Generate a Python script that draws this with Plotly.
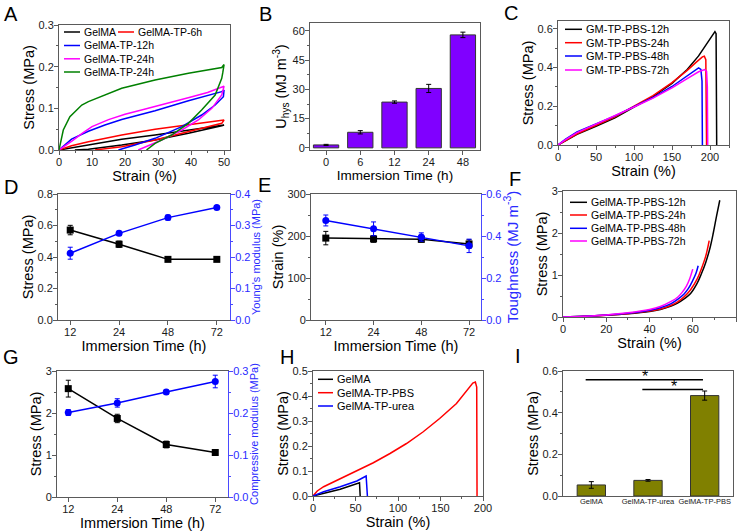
import plotly.graph_objects as go

W, H = 740, 532
FONT = "Liberation Sans, Arial, Helvetica, sans-serif"
FRAME = "#5a5a5a"
TICK_TXT = "#1a1a1a"
BLUE = "#0000FF"
BLUE_AX = "#4a4aff"
BLUE_TXT = "#2a2aff"

# ---------------- A: cyclic loading-unloading ----------------
A_names = ["GelMA", "GelMA-TP-6h", "GelMA-TP-12h", "GelMA-TP-24h", "GelMA-TP-24h"]
A_colors = ["#000000", "#FF0000", "#0000FF", "#FF00FF", "#008000"]
A_gelma_x = [0, 8.9, 19, 29.1, 39.2, 50, 49.3, 39.2, 29.1, 19, 8.9, 4.8]
A_gelma_y = [0, 0.012, 0.026, 0.036, 0.048, 0.060, 0.058, 0.040, 0.024, 0.012, 0.002, 0]
A_6h_x = [0, 3.8, 8.9, 19, 29.1, 39.2, 50, 49.3, 39.2, 29.1, 19, 10.9]
A_6h_y = [0, 0.010, 0.020, 0.036, 0.050, 0.060, 0.072, 0.064, 0.044, 0.024, 0.008, 0]
A_12h_x = [0, 3.8, 8.9, 13.9, 19, 29.1, 39.2, 49.3, 50, 49.8, 47.3, 43.2, 37.2, 29.1, 23, 18]
A_12h_y = [0, 0.026, 0.045, 0.060, 0.073, 0.094, 0.118, 0.140, 0.144, 0.128, 0.108, 0.084, 0.056, 0.028, 0.012, 0]
A_24h_x = [0, 2, 4, 7, 10, 15, 20, 25, 30, 35, 40, 45, 50, 49.3, 46.3, 42.2, 37.2, 31.1, 26.1, 24]
A_24h_y = [0, 0.010, 0.022, 0.040, 0.056, 0.073, 0.086, 0.096, 0.106, 0.116, 0.127, 0.138, 0.153,
           0.132, 0.100, 0.072, 0.048, 0.024, 0.008, 0]
A_24hb_x = [0, 1.3, 3.3, 6.9, 8.9, 13.9, 19, 29.1, 39.2, 49.3, 50, 49.6, 49.3, 47.3, 43.2, 39.2, 34.1, 29.1, 26.5]
A_24hb_y = [0, 0.048, 0.080, 0.108, 0.116, 0.132, 0.148, 0.168, 0.184, 0.198, 0.205, 0.185, 0.172,
            0.132, 0.096, 0.064, 0.036, 0.016, 0]

# ---------------- B: hysteresis energy ----------------
B_time = ["0", "6", "12", "24", "48"]
B_uhys = [1.5, 8.0, 23.5, 30.5, 58.0]
B_err = [0.3, 0.85, 0.6, 2.1, 1.4]

# ---------------- C: tensile curves ----------------
C_names = ["GM-TP-PBS-12h", "GM-TP-PBS-24h", "GM-TP-PBS-48h", "GM-TP-PBS-72h"]
C_colors = ["#000000", "#FF0000", "#0000FF", "#FF00FF"]
C_12_x = [0, 10, 25, 50, 75, 100, 125, 150, 170, 185, 200, 206.5, 208, 208.8]
C_12_y = [0, 0.022, 0.055, 0.097, 0.14, 0.195, 0.25, 0.318, 0.39, 0.46, 0.545, 0.585, 0.575, 0]
C_24_x = [0, 10, 25, 50, 75, 100, 125, 150, 170, 182, 190, 192.5, 194.5, 195.5]
C_24_y = [0, 0.025, 0.058, 0.102, 0.145, 0.2, 0.255, 0.322, 0.385, 0.428, 0.455, 0.458, 0.44, 0]
C_48_x = [0, 10, 25, 50, 75, 100, 125, 150, 170, 180, 185, 188, 189.5, 190]
C_48_y = [0, 0.03, 0.068, 0.11, 0.15, 0.198, 0.245, 0.302, 0.355, 0.383, 0.398, 0.39, 0.33, 0]
C_72_x = [0, 10, 25, 50, 75, 100, 125, 150, 170, 185, 193, 195.5, 196.5, 197]
C_72_y = [0, 0.028, 0.064, 0.108, 0.148, 0.196, 0.242, 0.295, 0.343, 0.378, 0.389, 0.38, 0.3, 0]

# ---------------- D / E / G: property vs immersion time ----------------
T_time = ["12", "24", "48", "72"]
D_stress = [0.571, 0.481, 0.385, 0.385]
D_stress_err = [0.03, 0.02, 0.006, 0.006]
D_modulus = [0.212, 0.275, 0.325, 0.357]
D_modulus_err = [0.019, 0.007, 0.008, 0.005]

E_strain = [195, 193, 192, 181]
E_strain_err = [16, 8, 6, 10]
E_tough = [0.474, 0.434, 0.395, 0.353]
E_tough_err = [0.026, 0.033, 0.02, 0.032]

G_stress = [2.58, 1.87, 1.25, 1.06]
G_stress_err = [0.2, 0.1, 0.08, 0.05]
G_modulus = [0.201, 0.224, 0.25, 0.275]
G_modulus_err = [0.007, 0.01, 0.005, 0.015]

# ---------------- F: compression curves ----------------
F_names = ["GelMA-TP-PBS-12h", "GelMA-TP-PBS-24h", "GelMA-TP-PBS-48h", "GelMA-TP-PBS-72h"]
F_colors = ["#000000", "#FF0000", "#0000FF", "#FF00FF"]
F_12_x = [0, 10, 20, 30, 40, 45, 50, 53, 56, 59, 62, 64, 66, 68, 69.5, 71, 72.5]
F_12_y = [0, 0.015, 0.04, 0.075, 0.13, 0.18, 0.26, 0.33, 0.43, 0.56, 0.8, 1.03, 1.3, 1.65, 2.0, 2.4, 2.78]
F_24_x = [0, 10, 20, 30, 40, 45, 50, 53, 56, 59, 62, 64, 66, 67.6]
F_24_y = [0, 0.015, 0.04, 0.08, 0.14, 0.19, 0.28, 0.36, 0.48, 0.65, 0.9, 1.15, 1.45, 1.82]
F_48_x = [0, 10, 20, 30, 40, 45, 50, 53, 56, 58, 60, 61.5, 62.5]
F_48_y = [0, 0.02, 0.045, 0.09, 0.16, 0.22, 0.32, 0.42, 0.55, 0.68, 0.87, 1.04, 1.22]
F_72_x = [0, 10, 20, 30, 40, 45, 50, 53, 55, 57, 58.5, 60]
F_72_y = [0, 0.02, 0.05, 0.1, 0.18, 0.25, 0.37, 0.47, 0.58, 0.73, 0.9, 1.14]

# ---------------- H: tensile curves of three gels ----------------
H_names = ["GelMA", "GelMA-TP-PBS", "GelMA-TP-urea"]
H_colors = ["#000000", "#FF0000", "#0000FF"]
H_gelma_x = [0, 12.5, 32, 54.7, 55.5]
H_gelma_y = [0, 0.011, 0.027, 0.053, 0]
H_pbs_x = [0, 5, 12.5, 32, 51.6, 71, 90.6, 110, 129.7, 149, 168.8, 184.4, 188, 191, 192.6, 193]
H_pbs_y = [0, 0.02, 0.037, 0.07, 0.10, 0.133, 0.17, 0.21, 0.257, 0.31, 0.37, 0.434, 0.452, 0.456, 0.436, 0]
H_urea_x = [0, 12.5, 32, 51.6, 62.5, 64]
H_urea_y = [0, 0.017, 0.037, 0.06, 0.08, 0]

# ---------------- I: tensile strength bars ----------------
I_groups = ["GelMA", "GelMA-TP-urea", "GelMA-TP-PBS"]
I_stress = [0.053, 0.075, 0.482]
I_err = [0.016, 0.004, 0.022]
I_sig_pairs = [(0, 2), (1, 2)]
I_sig_level = [0.558, 0.511]

# ---------------- layout helpers ----------------
BOX = {  # left, top, right, bottom in px
    "A": (59, 25, 230, 150), "B": (310, 23, 480, 150), "C": (558, 21, 729, 145),
    "D": (58, 194, 230, 320), "E": (311, 194, 481, 320), "F": (563, 191, 736, 317),
    "G": (57, 371, 228, 497), "H": (313, 371, 483, 496), "I": (563, 371, 733, 496),
}


def xdom(k):
    b = BOX[k]
    return [b[0] / W, b[2] / W]


def ydom(k):
    b = BOX[k]
    return [1 - b[3] / H, 1 - b[1] / H]


def axis(title=None, tsize=14.5, standoff=0, minor=None, tcolor="#000", **kw):
    d = dict(showline=True, linecolor=FRAME, linewidth=1, mirror=True,
             ticks="outside", ticklen=4, tickwidth=1, tickcolor=FRAME,
             showgrid=False, zeroline=False, ticklabelstandoff=-2,
             tickfont=dict(family=FONT, size=11, color=TICK_TXT))
    if title is not None:
        d["title"] = dict(text=title, font=dict(family=FONT, size=tsize, color=tcolor), standoff=standoff)
    if minor is not None:
        d["minor"] = dict(dtick=minor, ticks="outside", ticklen=2, tickcolor=FRAME, showgrid=False)
    d.update(kw)
    return d


def right_axis(over, anchor, rng, dtick, title, tsize, standoff):
    return dict(overlaying=over, anchor=anchor, side="right", range=rng, dtick=dtick, tickformat=".1f",
                showline=True, linecolor=BLUE_AX, linewidth=1, ticks="outside", ticklen=4,
                tickcolor=BLUE_AX, showgrid=False, zeroline=False, ticklabelstandoff=-2,
                minor=dict(dtick=dtick / 2, ticks="outside", ticklen=2, tickcolor=BLUE_AX, showgrid=False),
                tickfont=dict(family=FONT, size=11, color=BLUE_TXT),
                title=dict(text=title, font=dict(family=FONT, size=tsize, color=BLUE_TXT), standoff=standoff))


fig = go.Figure()


def line(x, y, color, xa, ya, shape="linear"):
    fig.add_trace(go.Scatter(x=x, y=y, mode="lines", line=dict(color=color, width=1.5, shape=shape),
                             xaxis=xa, yaxis=ya, showlegend=False, hoverinfo="skip"))


# A
for (xs, ys), c in zip([(A_gelma_x, A_gelma_y), (A_6h_x, A_6h_y), (A_12h_x, A_12h_y),
                        (A_24h_x, A_24h_y), (A_24hb_x, A_24hb_y)], A_colors):
    line(xs, ys, c, "x", "y")

# B
fig.add_trace(go.Bar(x=B_time, y=B_uhys, width=0.74, marker=dict(color="#8000FF", line=dict(color="#333", width=1)),
                     error_y=dict(type="data", array=B_err, color="#000", thickness=1, width=2.5),
                     xaxis="x2", yaxis="y2", showlegend=False))

# C
for (xs, ys), c in zip([(C_12_x, C_12_y), (C_24_x, C_24_y), (C_48_x, C_48_y), (C_72_x, C_72_y)], C_colors):
    line(xs, ys, c, "x3", "y3")


def dual(xa, ya, ya2, left, lerr, right, rerr):
    fig.add_trace(go.Scatter(x=T_time, y=left, mode="lines+markers",
                             line=dict(color="#000", width=1.5), marker=dict(symbol="square", size=7, color="#000"),
                             error_y=dict(type="data", array=lerr, color="#000", thickness=1, width=2.5),
                             xaxis=xa, yaxis=ya, showlegend=False))
    fig.add_trace(go.Scatter(x=T_time, y=right, mode="lines+markers",
                             line=dict(color=BLUE, width=1.5), marker=dict(symbol="circle", size=7, color=BLUE),
                             error_y=dict(type="data", array=rerr, color=BLUE, thickness=1, width=2.5),
                             xaxis=xa, yaxis=ya2, showlegend=False))


dual("x4", "y4", "y10", D_stress, D_stress_err, D_modulus, D_modulus_err)
dual("x5", "y5", "y11", E_strain, E_strain_err, E_tough, E_tough_err)
dual("x7", "y7", "y12", G_stress, G_stress_err, G_modulus, G_modulus_err)

# F
for (xs, ys), c in zip([(F_12_x, F_12_y), (F_24_x, F_24_y), (F_48_x, F_48_y), (F_72_x, F_72_y)], F_colors):
    line(xs, ys, c, "x6", "y6", shape="spline")

# H
for (xs, ys), c in zip([(H_gelma_x, H_gelma_y), (H_pbs_x, H_pbs_y), (H_urea_x, H_urea_y)], H_colors):
    line(xs, ys, c, "x8", "y8")

# I
fig.add_trace(go.Bar(x=I_groups, y=I_stress, width=0.5, marker=dict(color="#808000", line=dict(color="#333", width=1)),
                     error_y=dict(type="data", array=I_err, color="#000", thickness=1, width=2.5),
                     xaxis="x9", yaxis="y9", showlegend=False))

shapes = []
annotations = []

# significance bars in I
for (a, b), lvl in zip(I_sig_pairs, I_sig_level):
    shapes.append(dict(type="line", xref="x9", yref="y9", x0=a - 0.1, x1=b - 0.03, y0=lvl, y1=lvl,
                       line=dict(color="#000", width=1.5)))
    annotations.append(dict(xref="x9", yref="y9", x=(a + b) / 2 - 0.05, y=lvl, text="*", showarrow=False,
                            xanchor="center", yanchor="bottom", yshift=-7,
                            font=dict(family=FONT, size=16, color="#000")))


def legend_block(names, colors, pos, fs, sw):
    for n, c, (xp, yp) in zip(names, colors, pos):
        shapes.append(dict(type="line", xref="paper", yref="paper", x0=xp / W, x1=(xp + sw) / W,
                           y0=1 - yp / H, y1=1 - yp / H, line=dict(color=c, width=1.5)))
        annotations.append(dict(xref="paper", yref="paper", x=(xp + sw + 2) / W, y=1 - yp / H, text=n,
                                showarrow=False, xanchor="left", yanchor="middle",
                                font=dict(family=FONT, size=fs, color="#000")))


legend_block(A_names, A_colors, [(64, 32), (118, 32), (64, 45.5), (64, 58.8), (64, 72)], 10.5, 16)
legend_block(C_names, C_colors, [(565, 29.3), (565, 42.7), (565, 56), (565, 70)], 11, 17)
legend_block(F_names, F_colors, [(570, 202.3), (570, 215), (570, 228.3), (570, 241)], 10.5, 17)
legend_block(H_names, H_colors, [(318, 379.3), (318, 392.7), (318, 406)], 11, 15)

# panel letters
for letter, xp, yp in [("A", 2, 14), ("B", 257, 14.5), ("C", 502, 13.5), ("D", 2, 186.5), ("E", 256, 185),
                       ("F", 507, 179), ("G", 1, 357), ("H", 278, 356.5), ("I", 513, 356)]:
    annotations.append(dict(xref="paper", yref="paper", x=xp / W, y=1 - yp / H, text=letter, showarrow=False,
                            xanchor="left", yanchor="middle", font=dict(family=FONT, size=20, color="#000")))

layout = dict(
    width=W, height=H, autosize=False, margin=dict(l=0, r=0, t=0, b=0),
    paper_bgcolor="white", plot_bgcolor="white", template="none",
    font=dict(family=FONT, size=11, color="#000"), showlegend=False,
    shapes=shapes, annotations=annotations,
    # A
    xaxis=axis("Strain (%)", domain=xdom("A"), anchor="y", range=[0, 51.8], dtick=10, minor=5),
    yaxis=axis("Stress (MPa)", domain=ydom("A"), anchor="x", range=[0, 0.3], dtick=0.1, tickformat=".1f", minor=0.05),
    # B
    xaxis2=axis("Immersion Time (h)", tsize=13.5, domain=xdom("B"), anchor="y2", type="category", range=[-0.47, 4.5]),
    yaxis2=axis("U<sub>hys</sub> (MJ m<sup>-3</sup>)", domain=ydom("B"), anchor="x2", range=[-1.1, 64.1],
                tick0=0, dtick=15, minor=7.5, standoff=2),
    # C
    xaxis3=axis("Strain (%)", domain=xdom("C"), anchor="y3", range=[0, 225], dtick=50, minor=25),
    yaxis3=axis("Stress (MPa)", domain=ydom("C"), anchor="x3", range=[0, 0.64], dtick=0.2, tickformat=".1f", minor=0.1),
    # D
    xaxis4=axis("Immersion Time (h)", domain=xdom("D"), anchor="y4", type="category", range=[-0.25, 3.27]),
    yaxis4=axis("Stress (MPa)", domain=ydom("D"), anchor="x4", range=[0, 0.8], dtick=0.2, tickformat=".1f",
                minor=0.1, mirror=False),
    yaxis10=right_axis("y4", "x4", [0, 0.4], 0.1, "Young's modulus (MPa)", 11, 0),
    # E
    xaxis5=axis("Immersion Time (h)", domain=xdom("E"), anchor="y5", type="category", range=[-0.31, 3.25]),
    yaxis5=axis("Strain (%)", domain=ydom("E"), anchor="x5", range=[0, 300], dtick=100, minor=50, mirror=False),
    yaxis11=right_axis("y5", "x5", [0, 0.6], 0.2, "Toughness (MJ m<sup>-3</sup>)", 15, 4),
    # F
    xaxis6=axis("Strain (%)", domain=xdom("F"), anchor="y6", range=[0, 80], dtick=20, minor=10),
    yaxis6=axis("Stress (MPa)", domain=ydom("F"), anchor="x6", range=[0, 3], dtick=1, minor=0.5),
    # G
    xaxis7=axis("Immersion Time (h)", domain=xdom("G"), anchor="y7", type="category", range=[-0.23, 3.26]),
    yaxis7=axis("Stress (MPa)", domain=ydom("G"), anchor="x7", range=[0, 3], dtick=1, minor=0.5, mirror=False),
    yaxis12=right_axis("y7", "x7", [0, 0.3], 0.1, "Compressive modulus (MPa)", 11, 1),
    # H
    xaxis8=axis("Strain (%)", domain=xdom("H"), anchor="y8", range=[0, 200], dtick=50, minor=25),
    yaxis8=axis("Stress (MPa)", domain=ydom("H"), anchor="x8", range=[0, 0.5], dtick=0.1, tickformat=".1f", minor=0.05),
    # I
    xaxis9=axis(None, domain=xdom("I"), anchor="y9", type="category", range=[-0.5, 2.5], ticks="",
                tickangle=0, tickfont=dict(family=FONT, size=7.5, color=TICK_TXT)),
    yaxis9=axis("Stress (MPa)", domain=ydom("I"), anchor="x9", range=[0, 0.6], dtick=0.2, tickformat=".1f", minor=0.1),
)
fig.update_layout(**layout)
fig.write_html("out.html", config={"displayModeBar": False},
               post_script="document.body.style.margin='0';document.body.style.padding='0';"
                           "document.documentElement.style.overflow='hidden';")
